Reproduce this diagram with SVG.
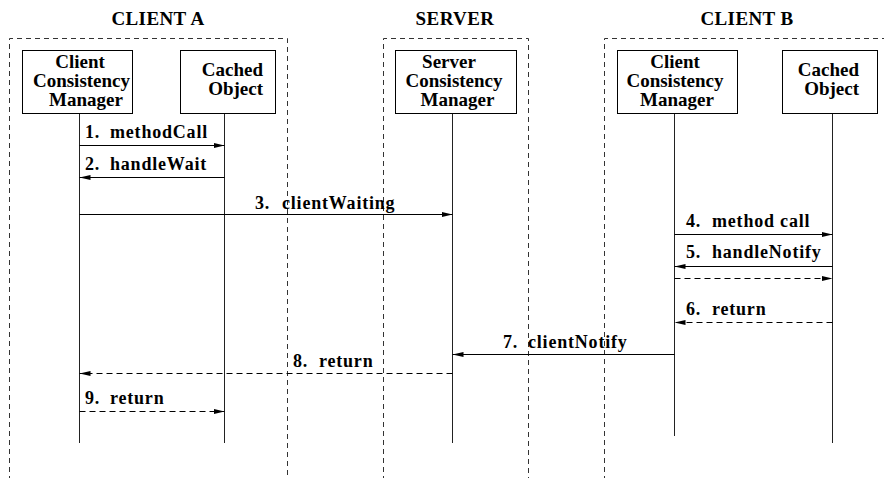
<svg xmlns="http://www.w3.org/2000/svg" width="884" height="478" viewBox="0 0 884 478" font-family="'Liberation Serif', 'DejaVu Serif', serif" font-weight="bold">
<style>
text { font-family: 'Liberation Serif', 'DejaVu Serif', serif; font-weight: bold; fill: #000; }
.title { font-size: 19px; letter-spacing: 0.4px; text-anchor: middle; }
.node { font-size: 19px; text-anchor: middle; }
.nodeR { font-size: 19px; text-anchor: end; }
.lbl { font-size: 18px; letter-spacing: 0.8px; }
.box { fill: #fff; stroke: #000; stroke-width: 1; }
.group { fill: none; stroke: #333; stroke-width: 1; stroke-dasharray: 5 4; }
.life { stroke: #222; stroke-width: 1; fill: none; }
.msg { stroke: #000; stroke-width: 1; fill: none; marker-end: url(#ah); }
.ret { stroke: #000; stroke-width: 1; fill: none; stroke-dasharray: 6 4; marker-end: url(#ah); }
</style>
<defs>
<marker id="ah" markerUnits="userSpaceOnUse" markerWidth="12" markerHeight="6" refX="11" refY="3" orient="auto">
<path d="M0,0.5 L11,3 L0,5.5 z" fill="#000"/>
</marker>
</defs>
<rect width="884" height="478" fill="#fff"/>

<g id="group-client-a">
<text class="title" x="158" y="25">CLIENT A</text>
<path class="group" d="M9.5,490 V38.5 H287.5 V490"/>
</g>
<g id="group-server">
<text class="title" x="455" y="25">SERVER</text>
<path class="group" d="M383.5,490 V38.5 H528.5 V490"/>
</g>
<g id="group-client-b">
<text class="title" x="747" y="25">CLIENT B</text>
<path class="group" d="M604.5,490 V38.5 H890"/>
</g>

<g id="lifelines">
<line class="life" x1="79.5" y1="113" x2="79.5" y2="443"/>
<line class="life" x1="224.5" y1="113" x2="224.5" y2="443"/>
<line class="life" x1="452.5" y1="113" x2="452.5" y2="443"/>
<line class="life" x1="674.5" y1="113" x2="674.5" y2="436"/>
<line class="life" x1="832.5" y1="113" x2="832.5" y2="443"/>
</g>

<g id="node-a-ccm">
<rect class="box" x="22.5" y="50.5" width="110" height="63"/>
<text class="node" x="80" y="68">Client</text>
<text class="node" x="81.5" y="87">Consistency</text>
<text class="node" x="86" y="106">Manager</text>
</g>
<g id="node-a-cached">
<rect class="box" x="180.5" y="50.5" width="95" height="63"/>
<text class="nodeR" x="263" y="76">Cached</text>
<text class="nodeR" x="263" y="95">Object</text>
</g>
<g id="node-server-scm">
<rect class="box" x="395.5" y="50.5" width="121" height="63"/>
<text class="node" x="449" y="68">Server</text>
<text class="node" x="454" y="87">Consistency</text>
<text class="node" x="457.5" y="106">Manager</text>
</g>
<g id="node-b-ccm">
<rect class="box" x="617.5" y="50.5" width="120" height="63"/>
<text class="node" x="675" y="68">Client</text>
<text class="node" x="675" y="87">Consistency</text>
<text class="node" x="677" y="106">Manager</text>
</g>
<g id="node-b-cached">
<rect class="box" x="782.5" y="50.5" width="95" height="63"/>
<text class="nodeR" x="859" y="76">Cached</text>
<text class="nodeR" x="859" y="95">Object</text>
</g>

<g id="connectors">
<line class="msg" x1="79.5" y1="145.5" x2="224.5" y2="145.5"/>
<line class="msg" x1="224.5" y1="177.5" x2="79.5" y2="177.5"/>
<line class="msg" x1="79.5" y1="214.5" x2="452.5" y2="214.5"/>
<line class="msg" x1="674.5" y1="234.5" x2="832.5" y2="234.5"/>
<line class="msg" x1="832.5" y1="266.5" x2="674.5" y2="266.5"/>
<line class="ret" x1="674.5" y1="278.5" x2="832.5" y2="278.5"/>
<line class="ret" x1="832.5" y1="322.5" x2="674.5" y2="322.5"/>
<line class="msg" x1="674.5" y1="354.5" x2="452.5" y2="354.5"/>
<line class="ret" x1="452.5" y1="373.5" x2="79.5" y2="373.5"/>
<line class="ret" x1="79.5" y1="411.5" x2="224.5" y2="411.5"/>
</g>

<g id="labels">
<text class="lbl" x="85" y="138">1. <tspan x="110">methodCall</tspan></text>
<text class="lbl" x="85" y="170">2. <tspan x="110">handleWait</tspan></text>
<text class="lbl" x="255" y="209">3. <tspan x="282">clientWaiting</tspan></text>
<text class="lbl" x="686" y="227">4. <tspan x="712">method call</tspan></text>
<text class="lbl" x="686" y="258">5. <tspan x="712">handleNotify</tspan></text>
<text class="lbl" x="686" y="315">6. <tspan x="712">return</tspan></text>
<text class="lbl" x="503" y="348">7. <tspan x="528">clientNotify</tspan></text>
<text class="lbl" x="293" y="367">8. <tspan x="319">return</tspan></text>
<text class="lbl" x="85" y="404">9. <tspan x="110">return</tspan></text>
</g>
</svg>
